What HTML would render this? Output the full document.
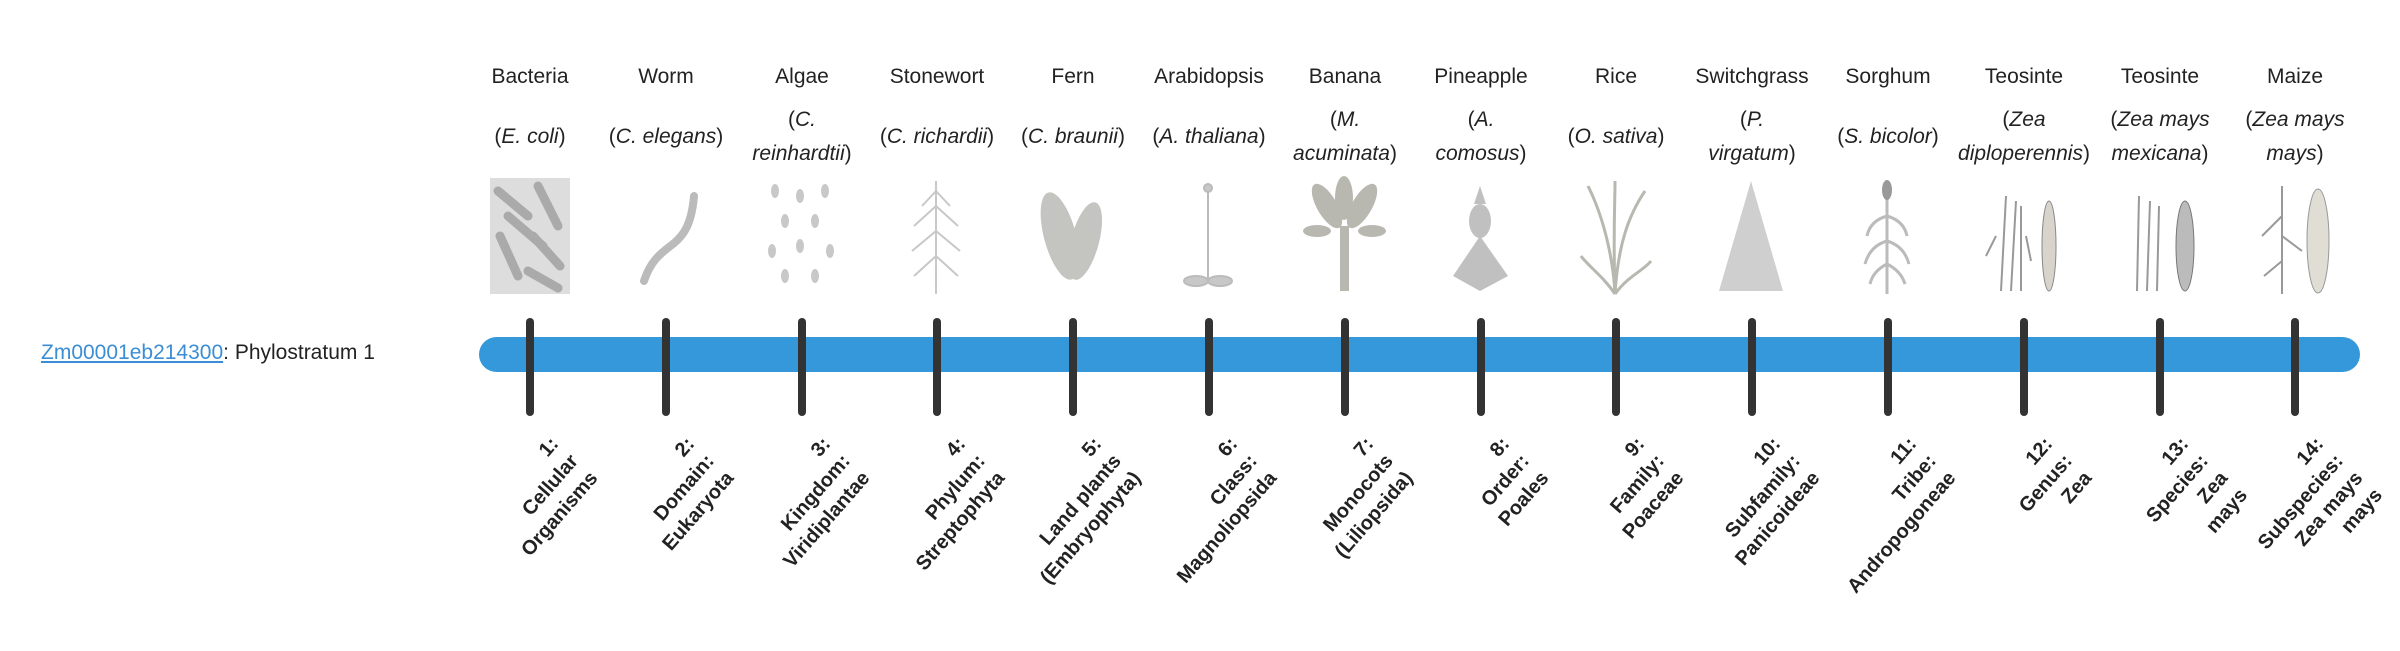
<!DOCTYPE html>
<html><head><meta charset="utf-8"><style>
body{margin:0;width:2400px;height:580px;background:#fff;position:relative;overflow:hidden;font-family:"Liberation Sans",sans-serif;color:#222}
.a{position:absolute}
.cn{position:absolute;top:65px;width:136px;text-align:center;font-size:21px}
.sp{position:absolute;top:102px;height:70px;width:136px;display:flex;align-items:center;justify-content:center;text-align:center;font-size:21px;line-height:34px}
.sp i{font-style:italic}
.tk{position:absolute;top:318px;width:8px;height:98px;background:#333;border-radius:4px}
.lb{position:absolute;top:432px;width:200px;text-align:right;font-weight:bold;font-size:20px;line-height:26px;transform-origin:100% 0;transform:rotate(-49deg);color:#222}
svg.im{position:absolute;top:176px}
</style></head><body>
<div class="a" style="left:41px;top:341px;font-size:21px"><span style="color:#3b8ed4;text-decoration:underline">Zm00001eb214300</span>: Phylostratum 1</div>
<div class="a" style="left:479px;top:337px;width:1881px;height:35px;background:#3498db;border-radius:18px"></div>

<div class="cn" style="left:462px">Bacteria</div><div class="sp" style="left:462px"><span>(<i>E. coli</i>)</span></div>
<div class="cn" style="left:598px">Worm</div><div class="sp" style="left:598px"><span>(<i>C. elegans</i>)</span></div>
<div class="cn" style="left:734px">Algae</div><div class="sp" style="left:734px;width:110px;margin-left:13px"><span>(<i>C. reinhardtii</i>)</span></div>
<div class="cn" style="left:869px">Stonewort</div><div class="sp" style="left:869px"><span>(<i>C. richardii</i>)</span></div>
<div class="cn" style="left:1005px">Fern</div><div class="sp" style="left:1005px"><span>(<i>C. braunii</i>)</span></div>
<div class="cn" style="left:1141px">Arabidopsis</div><div class="sp" style="left:1141px;width:150px;margin-left:-7px"><span>(<i>A. thaliana</i>)</span></div>
<div class="cn" style="left:1277px">Banana</div><div class="sp" style="left:1277px;width:110px;margin-left:13px"><span>(<i>M. acuminata</i>)</span></div>
<div class="cn" style="left:1413px">Pineapple</div><div class="sp" style="left:1413px;width:110px;margin-left:13px"><span>(<i>A. comosus</i>)</span></div>
<div class="cn" style="left:1548px">Rice</div><div class="sp" style="left:1548px"><span>(<i>O. sativa</i>)</span></div>
<div class="cn" style="left:1684px">Switchgrass</div><div class="sp" style="left:1684px;width:110px;margin-left:13px"><span>(<i>P. virgatum</i>)</span></div>
<div class="cn" style="left:1820px">Sorghum</div><div class="sp" style="left:1820px"><span>(<i>S. bicolor</i>)</span></div>
<div class="cn" style="left:1956px">Teosinte</div><div class="sp" style="left:1956px"><span>(<i>Zea diploperennis</i>)</span></div>
<div class="cn" style="left:2092px">Teosinte</div><div class="sp" style="left:2092px"><span>(<i>Zea mays mexicana</i>)</span></div>
<div class="cn" style="left:2227px">Maize</div><div class="sp" style="left:2227px"><span>(<i>Zea mays mays</i>)</span></div>

<svg class="im" style="left:488px" width="84" height="120"><rect x="2" y="2" width="80" height="116" fill="#ddd"/><g stroke="#aaa" stroke-width="9" stroke-linecap="round"><line x1="10" y1="15" x2="40" y2="40"/><line x1="50" y1="10" x2="70" y2="50"/><line x1="12" y1="60" x2="30" y2="100"/><line x1="45" y1="60" x2="72" y2="90"/><line x1="40" y1="95" x2="70" y2="112"/><line x1="20" y1="40" x2="55" y2="70"/></g></svg>
<svg class="im" style="left:624px" width="84" height="120"><path d="M70 20 C65 80,35 60,20 105" stroke="#bbb" stroke-width="8" fill="none" stroke-linecap="round"/></svg>
<svg class="im" style="left:760px" width="84" height="120"><g fill="#c8c8c8"><ellipse cx="15" cy="15" rx="4" ry="7"/><ellipse cx="40" cy="20" rx="4" ry="7"/><ellipse cx="65" cy="15" rx="4" ry="7"/><ellipse cx="25" cy="45" rx="4" ry="7"/><ellipse cx="55" cy="45" rx="4" ry="7"/><ellipse cx="12" cy="75" rx="4" ry="7"/><ellipse cx="40" cy="70" rx="4" ry="7"/><ellipse cx="70" cy="75" rx="4" ry="7"/><ellipse cx="25" cy="100" rx="4" ry="7"/><ellipse cx="55" cy="100" rx="4" ry="7"/></g></svg>
<svg class="im" style="left:894px" width="84" height="120"><g stroke="#c8c8c8" stroke-width="2" fill="none"><line x1="42" y1="5" x2="42" y2="118"/><path d="M42 30 L20 50 M42 30 L64 50 M42 55 L18 75 M42 55 L66 75 M42 80 L20 100 M42 80 L64 100 M42 15 L28 30 M42 15 L56 30"/></g></svg>
<svg class="im" style="left:1030px" width="84" height="120"><g fill="#c4c4c0"><ellipse cx="30" cy="60" rx="16" ry="45" transform="rotate(-15 30 60)"/><ellipse cx="55" cy="65" rx="14" ry="40" transform="rotate(15 55 65)"/></g></svg>
<svg class="im" style="left:1166px" width="84" height="120"><g stroke="#bbb" stroke-width="2" fill="#c8c8c8"><line x1="42" y1="10" x2="42" y2="105"/><ellipse cx="30" cy="105" rx="12" ry="5"/><ellipse cx="54" cy="105" rx="12" ry="5"/><circle cx="42" cy="12" r="4"/></g></svg>
<svg class="im" style="left:1302px" width="84" height="120"><g fill="#b8b8b0"><rect x="38" y="50" width="9" height="65"/><ellipse cx="25" cy="30" rx="10" ry="25" transform="rotate(-30 25 30)"/><ellipse cx="60" cy="30" rx="10" ry="25" transform="rotate(30 60 30)"/><ellipse cx="42" cy="22" rx="9" ry="22"/><ellipse cx="15" cy="55" rx="14" ry="6"/><ellipse cx="70" cy="55" rx="14" ry="6"/></g></svg>
<svg class="im" style="left:1438px" width="84" height="120"><g fill="#c0c0c0"><ellipse cx="42" cy="45" rx="11" ry="17"/><path d="M42 60 L15 100 L42 115 L70 100 Z"/><path d="M42 10 L36 28 L48 28 Z"/></g></svg>
<svg class="im" style="left:1573px" width="84" height="120"><g stroke="#b8b8b0" stroke-width="3" fill="none"><path d="M42 118 C40 80,30 40,15 10 M42 118 C45 70,55 40,72 15 M42 118 C40 60,42 30,42 5 M42 118 C30 100,15 90,8 80 M42 118 C55 100,70 95,78 85"/></g></svg>
<svg class="im" style="left:1709px" width="84" height="120"><g fill="#cfcfcf"><path d="M42 5 L10 115 L74 115 Z"/></g></svg>
<svg class="im" style="left:1845px" width="84" height="120"><g stroke="#bbb" stroke-width="3" fill="none"><line x1="42" y1="15" x2="42" y2="118"/><path d="M42 40 Q25 45,22 60 M42 40 Q59 45,62 60 M42 65 Q25 70,20 88 M42 65 Q59 70,64 88 M42 88 Q28 95,25 108 M42 88 Q56 95,60 108"/></g><ellipse cx="42" cy="14" rx="5" ry="10" fill="#999"/></svg>
<svg class="im" style="left:1981px" width="84" height="120"><g stroke="#999" stroke-width="2" fill="none"><path d="M20 115 L25 20 M30 115 L35 25 M40 115 L40 30 M15 60 L5 80 M45 60 L50 85"/></g><ellipse cx="68" cy="70" rx="7" ry="45" fill="#d8d4cc" stroke="#888"/></svg>
<svg class="im" style="left:2117px" width="84" height="120"><g stroke="#999" stroke-width="2" fill="none"><path d="M20 115 L22 20 M30 115 L33 25 M40 115 L42 30"/></g><ellipse cx="68" cy="70" rx="9" ry="45" fill="#bbb" stroke="#777"/></svg>
<svg class="im" style="left:2252px" width="84" height="120"><g stroke="#999" stroke-width="2" fill="none"><path d="M30 118 L30 10 M30 40 L10 60 M30 60 L50 75 M30 85 L12 100"/></g><ellipse cx="66" cy="65" rx="11" ry="52" fill="#e0ddd5" stroke="#999"/></svg>

<div class="tk" style="left:526px"></div><div class="tk" style="left:662px"></div><div class="tk" style="left:798px"></div><div class="tk" style="left:933px"></div><div class="tk" style="left:1069px"></div><div class="tk" style="left:1205px"></div><div class="tk" style="left:1341px"></div><div class="tk" style="left:1477px"></div><div class="tk" style="left:1612px"></div><div class="tk" style="left:1748px"></div><div class="tk" style="left:1884px"></div><div class="tk" style="left:2020px"></div><div class="tk" style="left:2156px"></div><div class="tk" style="left:2291px"></div>

<div class="lb" style="left:345px">1:<br>Cellular<br>Organisms</div>
<div class="lb" style="left:481px">2:<br>Domain:<br>Eukaryota</div>
<div class="lb" style="left:617px">3:<br>Kingdom:<br>Viridiplantae</div>
<div class="lb" style="left:752px">4:<br>Phylum:<br>Streptophyta</div>
<div class="lb" style="left:888px">5:<br>Land plants<br>(Embryophyta)</div>
<div class="lb" style="left:1024px">6:<br>Class:<br>Magnoliopsida</div>
<div class="lb" style="left:1160px">7:<br>Monocots<br>(Liliopsida)</div>
<div class="lb" style="left:1296px">8:<br>Order:<br>Poales</div>
<div class="lb" style="left:1431px">9:<br>Family:<br>Poaceae</div>
<div class="lb" style="left:1567px">10:<br>Subfamily:<br>Panicoideae</div>
<div class="lb" style="left:1703px">11:<br>Tribe:<br>Andropogoneae</div>
<div class="lb" style="left:1839px">12:<br>Genus:<br>Zea</div>
<div class="lb" style="left:1975px">13:<br>Species:<br>Zea<br>mays</div>
<div class="lb" style="left:2110px">14:<br>Subspecies:<br>Zea mays<br>mays</div>
</body></html>
